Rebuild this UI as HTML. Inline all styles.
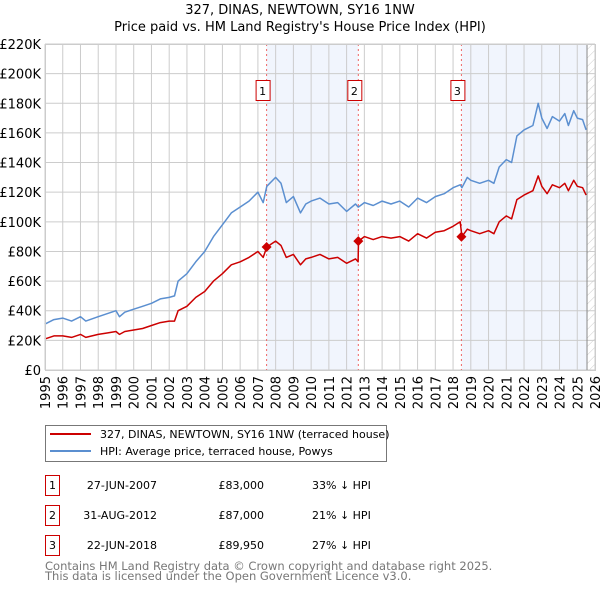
<!DOCTYPE html>
<html><head><meta charset="utf-8"><style>
body{margin:0;background:#fff;font-family:"Liberation Sans","DejaVu Sans",sans-serif;}
svg text{font-family:"DejaVu Sans","Liberation Sans",sans-serif;}
</style></head><body>
<svg id="chart" width="600" height="590" xmlns="http://www.w3.org/2000/svg">
<defs><pattern id="hatch" width="6" height="6" patternUnits="userSpaceOnUse" patternTransform="rotate(45)"><line x1="0" y1="0" x2="0" y2="6" stroke="#ccc" stroke-width="1"/></pattern></defs>
<text x="300" y="14" text-anchor="middle" font-size="13" fill="#000">327, DINAS, NEWTOWN, SY16 1NW</text>
<text x="300" y="31" text-anchor="middle" font-size="13" fill="#000">Price paid vs. HM Land Registry's House Price Index (HPI)</text>
<g id="plot"></g>
<g>
<rect x="45.5" y="425.5" width="341" height="36" fill="#fff" stroke="#777"/>
<line x1="50" y1="434" x2="91" y2="434" stroke="#cc0000" stroke-width="2"/>
<text x="100" y="438" font-size="11">327, DINAS, NEWTOWN, SY16 1NW (terraced house)</text>
<line x1="50" y1="451" x2="91" y2="451" stroke="#5b8fd0" stroke-width="2"/>
<text x="100" y="455" font-size="11">HPI: Average price, terraced house, Powys</text>
</g>
<g id="table" font-size="11"></g>
<text x="45" y="570" font-size="11.5" fill="#777">Contains HM Land Registry data © Crown copyright and database right 2025.</text>
<text x="45" y="580" font-size="11.5" fill="#777">This data is licensed under the Open Government Licence v3.0.</text>
</svg>
<script>
const years=[1995.0,1995.5,1996.0,1996.5,1997.0,1997.3,1998.0,1998.5,1999.0,1999.2,1999.5,2000.0,2000.5,2001.0,2001.5,2002.0,2002.3,2002.5,2003.0,2003.5,2004.0,2004.5,2005.0,2005.5,2006.0,2006.5,2007.0,2007.3,2007.5,2008.0,2008.3,2008.6,2009.0,2009.4,2009.7,2010.0,2010.5,2011.0,2011.5,2012.0,2012.5,2012.65,2012.67,2013.0,2013.5,2014.0,2014.5,2015.0,2015.5,2016.0,2016.5,2017.0,2017.5,2018.0,2018.4,2018.5,2018.8,2019.0,2019.5,2020.0,2020.3,2020.6,2021.0,2021.3,2021.6,2022.0,2022.5,2022.8,2023.0,2023.3,2023.6,2024.0,2024.3,2024.5,2024.8,2025.0,2025.3,2025.5];
const hpiValues=[31,34,35,33,36,33,36,38,40,36,39,41,43,45,48,49,50,60,65,73,80,90,98,106,110,114,120,113,124,130,126,113,117,106,112,114,116,112,113,107,112,110,110,113,111,114,112,114,110,116,113,117,119,123,125,123,130,128,126,128,126,137,142,140,158,162,165,180,170,163,171,168,173,165,175,170,169,162];
const priceValues=[21,23,23,22,24,22,24,25,26,24,26,27,28,30,32,33,33,40,43,49,53,60,65,71,73,76,80,76,83,87,84,76,78,71,75,76,78,75,76,72,75,73,87,90,88,90,89,90,87,92,89,93,94,97,100,90,95,94,92,94,92,100,104,102,115,118,121,131,124,119,125,123,126,121,128,124,123,118];
const saleYears=[2007.49,2012.66,2018.47];
const saleValues=[83,87,89.95];
const saleLabels=["1","2","3"];
const saleDates=["27-JUN-2007","31-AUG-2012","22-JUN-2018"];
const salePrices=["£83,000","£87,000","£89,950"];
const saleDiffs=["33% ↓ HPI","21% ↓ HPI","27% ↓ HPI"];
const yTicks=[0,20,40,60,80,100,120,140,160,180,200,220];
const xTicks=[1995,1996,1997,1998,1999,2000,2001,2002,2003,2004,2005,2006,2007,2008,2009,2010,2011,2012,2013,2014,2015,2016,2017,2018,2019,2020,2021,2022,2023,2024,2025,2026];

const L=45,R=595,T=44,B=370,X0=1995,X1=2026,YMAX=220;
const xs=y=>L+(y-X0)/(X1-X0)*(R-L);
const ys=v=>B-v/YMAX*(B-T);
const NS="http://www.w3.org/2000/svg";
const plot=document.getElementById('plot');
function mk(tag,attrs,parent){const e=document.createElementNS(NS,tag);for(const k in attrs)e.setAttribute(k,attrs[k]);(parent||plot).appendChild(e);return e;}
let e;
e=mk('rect',{x:L,y:T,width:R-L,height:B-T,fill:'#fff'});


// shaded bands
e=mk('rect',{x:xs(saleYears[0]),y:T,width:xs(saleYears[1])-xs(saleYears[0]),height:B-T,fill:'#eef3fc',opacity:0.8});


e=mk('rect',{x:xs(saleYears[2]),y:T,width:xs(2025.55)-xs(saleYears[2]),height:B-T,fill:'#eef3fc',opacity:0.8});


e=mk('rect',{x:xs(2025.55),y:T,width:R-xs(2025.55),height:B-T,fill:'url(#hatch)'});


yTicks.forEach(v=>{
 e=mk('line',{x1:L,x2:R,y1:ys(v),y2:ys(v),stroke:'#ccc','stroke-width':1});
 
 
 e=mk('text',{x:L-4,y:ys(v)+5,'text-anchor':'end','font-size':13});
 e.textContent=v===0?'£0':'£'+v+'K';
 
 
});
xTicks.forEach(y=>{
 e=mk('line',{x1:xs(y),x2:xs(y),y1:T,y2:B,stroke:'#ccc','stroke-width':1});
 
 
 e=mk('text',{x:0,y:0,'font-size':13,'text-anchor':'end',transform:`translate(${xs(y)+5},${B+6}) rotate(-90)`});
 e.textContent=y;
 
 
});
e=mk('line',{x1:xs(2025.55),x2:xs(2025.55),y1:T,y2:B,stroke:'#888','stroke-width':1});


saleYears.forEach((y,i)=>{
 e=mk('line',{x1:xs(y),x2:xs(y),y1:T,y2:B,stroke:'#e66','stroke-width':1,'stroke-dasharray':'2,3'});
 
 
});
const pts=a=>years.map((y,i)=>xs(y).toFixed(1)+','+ys(a[i]).toFixed(1)).join(' ');
e=mk('polyline',{points:pts(hpiValues),fill:'none',stroke:'#5b8fd0','stroke-width':1.5,'stroke-linejoin':'round'});


e=mk('polyline',{points:pts(priceValues),fill:'none',stroke:'#cc0000','stroke-width':1.5,'stroke-linejoin':'round'});


saleYears.forEach((y,i)=>{
 const cx=xs(y),cy=ys(saleValues[i]);
 e=mk('polygon',{points:`${cx},${cy-5} ${cx+5},${cy} ${cx},${cy+5} ${cx-5},${cy}`,fill:'#cc0000'});
 
 
 e=mk('rect',{x:cx-11+0.5,y:80.5,width:14,height:20,fill:'#fff',stroke:'#cc0000'});
 
 
 e=mk('text',{x:cx-4,y:95,'text-anchor':'middle','font-size':11});
 e.textContent=saleLabels[i];
 
 
});
e=mk('rect',{x:L+0.5,y:T+0.5,width:R-L,height:B-T,fill:'none',stroke:'#ccc'});


const tb=document.getElementById('table');
saleLabels.forEach((l,i)=>{
 const ty=475+i*30;
 e=mk('rect',{x:45.5,y:ty+0.5,width:14,height:20,fill:'#fff',stroke:'#cc0000'},tb);
 
 
 e=mk('text',{x:52.5,y:ty+14,'text-anchor':'middle'},tb);e.textContent=l;
 
 
 e=mk('text',{x:157,y:ty+14,'text-anchor':'end'},tb);e.textContent=saleDates[i];
 
 
 e=mk('text',{x:264,y:ty+14,'text-anchor':'end'},tb);e.textContent=salePrices[i];
 
 
 e=mk('text',{x:312,y:ty+14},tb);e.textContent=saleDiffs[i];
 
 
});
</script>
</body></html>
